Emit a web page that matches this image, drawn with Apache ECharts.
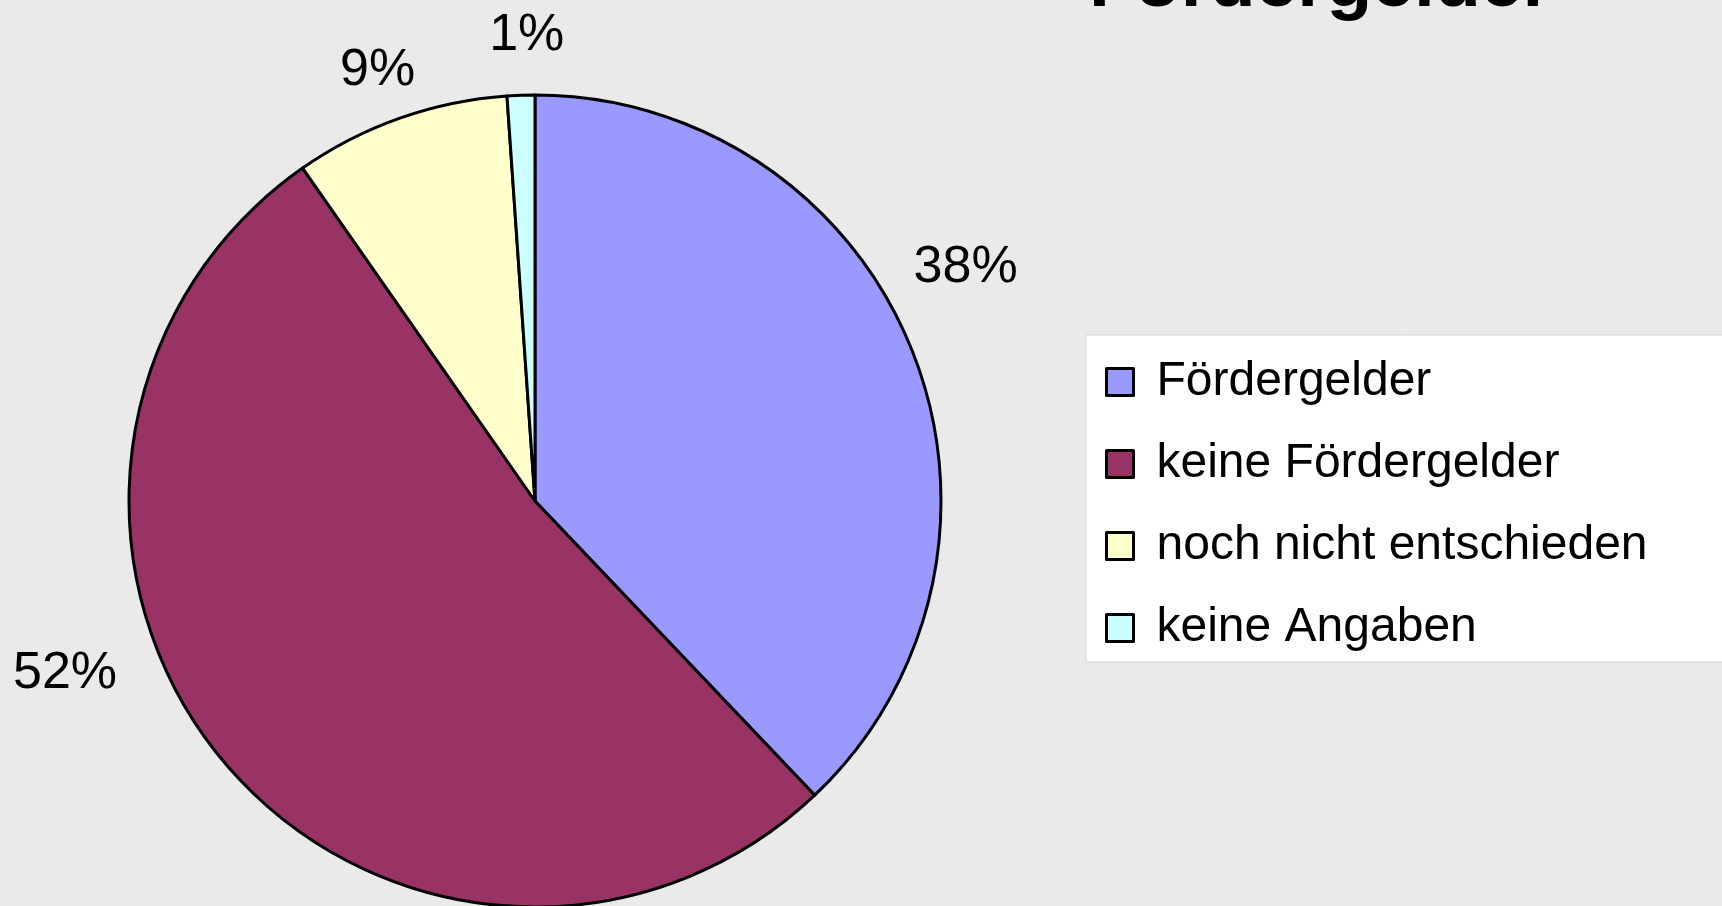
<!DOCTYPE html>
<html>
<head>
<meta charset="utf-8">
<script src="https://cdn.jsdelivr.net/npm/echarts@6/dist/echarts.min.js"></script>
<style>
  html, body { margin: 0; padding: 0; background: #eaeaea; }
  #main { width: 1722px; height: 906px; }
</style>
</head>
<body>
<div id="main"></div>
<script type="text/javascript">
    // Daten
    var categories = ['Fördergelder', 'keine Fördergelder', 'noch nicht entschieden', 'keine Angaben'];
    var values = [37.9, 52.4, 8.6, 1.1];
    var colors = ['#9999ff', '#993366', '#ffffcc', '#ccffff'];

    var myChart = echarts.init(document.getElementById('main'));

    // Verschiebung der Beschriftungen (wie im Original-Diagramm)
    var labelShift = [[-22, -75], [-83, -97], [27, -29], [49, -40]];

    var option = {
        backgroundColor: '#eaeaea',
        color: colors,
        title: {
            text: 'Fördergelder',
            left: 1084,
            top: -57,
            textStyle: {
                fontFamily: 'Liberation Sans',
                fontSize: 75,
                fontWeight: 'bold',
                color: '#000'
            }
        },
        graphic: [{
            type: 'rect',
            shape: { x: 1086, y: 335, width: 700, height: 327 },
            style: { fill: '#fff', stroke: '#d4d4d4', lineWidth: 1 },
            z: 0
        }],
        legend: {
            orient: 'vertical',
            left: 1100,
            top: 353,
            itemWidth: 27,
            itemHeight: 27,
            itemGap: 34,
            icon: 'rect',
            itemStyle: { borderColor: '#000', borderWidth: 3 },
            textStyle: {
                fontFamily: 'Liberation Sans',
                fontSize: 48,
                lineHeight: 27,
                color: '#000',
                padding: [0, 0, 0, 18]
            },
            data: categories
        },
        series: [{
            name: 'Fördergelder',
            type: 'pie',
            center: [535, 501],
            radius: 406,
            startAngle: 90,
            clockwise: true,
            avoidLabelOverlap: false,
            itemStyle: { borderColor: '#000', borderWidth: 3 },
            label: {
                show: true,
                position: 'outside',
                alignTo: 'none',
                fontFamily: 'Liberation Sans',
                fontSize: 52,
                color: '#000',
                formatter: function (p) { return Math.round(p.percent) + '%'; }
            },
            labelLine: { show: false, length: 20, length2: 0 },
            labelLayout: function (p) {
                var s = labelShift[p.dataIndex];
                return { dx: s[0], dy: s[1] };
            },
            emphasis: { disabled: true },
            data: categories.map(function (name, i) {
                return { name: name, value: values[i] };
            })
        }]
    };

    myChart.setOption(option);
</script>
</body>
</html>
